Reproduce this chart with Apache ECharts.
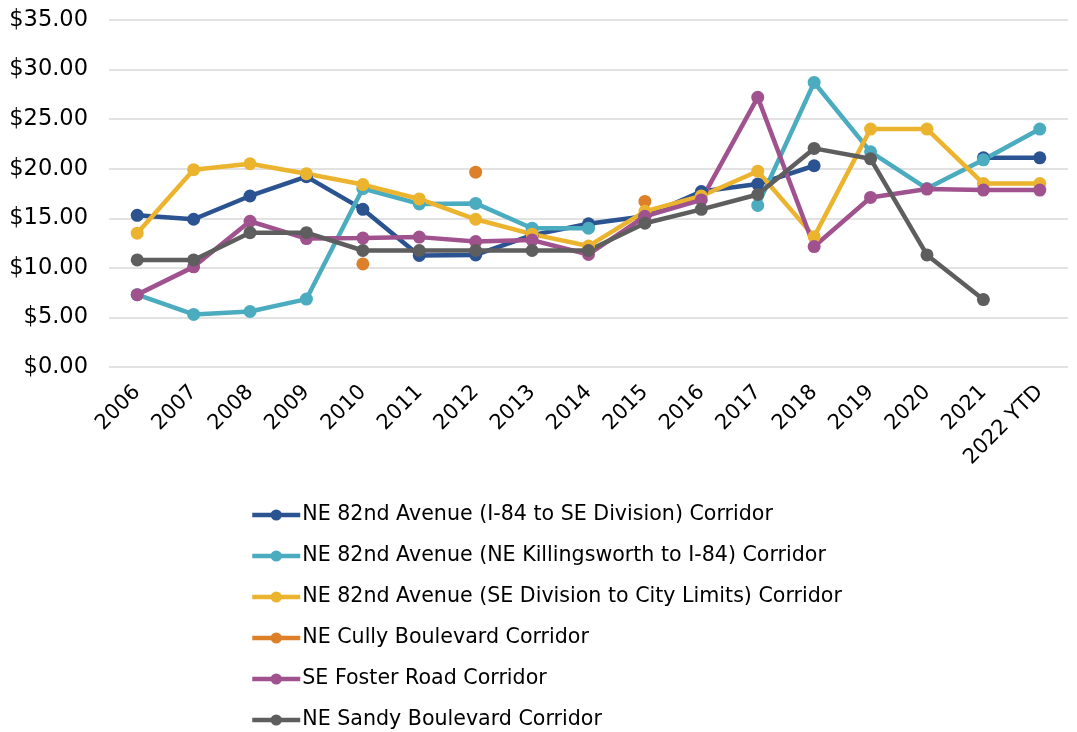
<!DOCTYPE html>
<html>
<head>
<meta charset="utf-8">
<script src="https://cdn.jsdelivr.net/npm/echarts@6/dist/echarts.min.js"></script>
<style>
  html, body { margin: 0; padding: 0; background: #fff; }
  #main { width: 1077px; height: 732px; }
</style>
</head>
<body>
<div id="main"></div>
<script>
// categories (years)
var years = ['2006', '2007', '2008', '2009', '2010', '2011', '2012', '2013', '2014',
  '2015', '2016', '2017', '2018', '2019', '2020', '2021', '2022 YTD'];

// series values (null = no value)
var ave82Division = [15.3, 14.9, 17.25, 19.2, 15.9, 11.25, 11.3, 13.3, 14.45, 15.2, 17.7, 18.45, 20.3, null, null, 21.1, 21.1];
var ave82Killingsworth = [7.3, 5.3, 5.6, 6.85, 18.0, 16.45, 16.5, 14.0, 14.0, null, null, 16.3, 28.7, 21.7, 18.0, 20.9, 24.0];
var ave82CityLimits = [13.5, 19.9, 20.5, 19.5, 18.4, 16.95, 14.9, 13.4, 12.2, 15.7, 17.25, 19.75, 13.15, 24.0, 24.0, 18.5, 18.5];
var cullyBlvd = [null, null, null, null, 10.4, null, 19.65, null, null, 16.7, null, null, null, null, null, null, null];
var fosterRd = [7.3, 10.1, 14.7, 12.95, 13.0, 13.1, 12.65, 12.8, 11.35, 15.2, 16.85, 27.2, 12.15, 17.1, 17.95, 17.85, 17.85];
var sandyBlvd = [10.8, 10.8, 13.55, 13.55, 11.75, 11.75, 11.75, 11.75, 11.75, 14.5, 15.9, 17.4, 22.05, 21.0, 11.3, 6.8, null];

var names = [
  'NE 82nd Avenue (I-84 to SE Division) Corridor',
  'NE 82nd Avenue (NE Killingsworth to I-84) Corridor',
  'NE 82nd Avenue (SE Division to City Limits) Corridor',
  'NE Cully Boulevard Corridor',
  'SE Foster Road Corridor',
  'NE Sandy Boulevard Corridor'
];
var colors = ['#2C5391', '#4BACC0', '#ECB42E', '#DE8029', '#A0528E', '#5E5E5E'];
var dataList = [ave82Division, ave82Killingsworth, ave82CityLimits, cullyBlvd, fosterRd, sandyBlvd];

var fontName = 'DejaVu Sans';

var series = [];
for (var i = 0; i < names.length; i++) {
  series.push({
    name: names[i],
    type: 'line',
    data: dataList[i],
    symbol: 'circle',
    symbolSize: 13,
    showAllSymbol: true,
    connectNulls: false,
    lineStyle: { width: 4.5, color: colors[i] },
    itemStyle: { color: colors[i] },
    emphasis: { disabled: true },
    z: i === 3 ? 1 : 2
  });
}

var myChart = echarts.init(document.getElementById('main'));
var option = {
  animation: false,
  color: colors,
  grid: { left: 109, right: 9, top: 20, bottom: 365, containLabel: false },
  legend: {
    orient: 'vertical',
    left: 250,
    top: 503,
    height: 300,
    padding: 0,
    itemWidth: 48,
    itemHeight: 14,
    itemGap: 17,
    data: names,
    lineStyle: { width: 4.5 },
    textStyle: { fontFamily: fontName, fontSize: 20.6, lineHeight: 24, color: '#000', padding: [0, 0, 0, -3] }
  },
  xAxis: {
    type: 'category',
    data: years,
    boundaryGap: true,
    axisLine: { show: false },
    axisTick: { show: false },
    axisLabel: {
      interval: 0,
      rotate: 45,
      margin: 22,
      fontFamily: fontName,
      fontSize: 21,
      color: '#000'
    }
  },
  yAxis: {
    type: 'value',
    min: 0,
    max: 35,
    interval: 5,
    axisLine: { show: false },
    axisTick: { show: false },
    splitLine: { lineStyle: { color: '#D9D9D9', width: 1.5 } },
    axisLabel: {
      margin: 21,
      fontFamily: fontName,
      fontSize: 22.5,
      color: '#000',
      formatter: function (v) { return '$' + v.toFixed(2); }
    }
  },
  series: series
};
myChart.setOption(option);
</script>
</body>
</html>
